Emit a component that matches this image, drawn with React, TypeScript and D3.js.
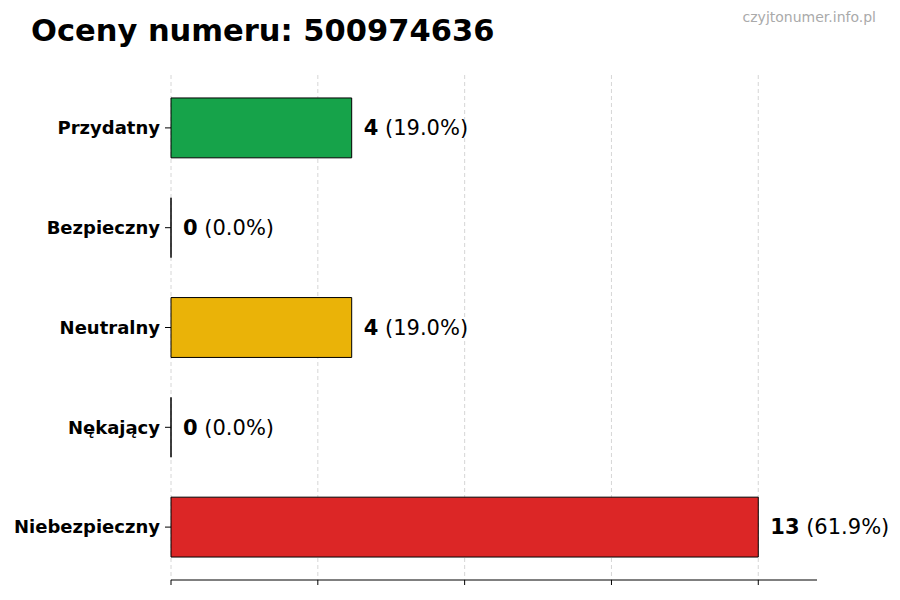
import React from "react";
import * as d3 from "d3";

const categories = ["Przydatny", "Bezpieczny", "Neutralny", "Nękający", "Niebezpieczny"];
const counts = [4, 0, 4, 0, 13];
const percents = ["19.0%", "0.0%", "19.0%", "0.0%", "61.9%"];
const colors = ["#16a34a", "#2563eb", "#eab308", "#f97316", "#dc2626"];
const xTicks = [0, 3.25, 6.5, 9.75, 13];
const title = "Oceny numeru: 500974636";
const watermark = "czyjtonumer.info.pl";

const W = 900;
const H = 600;
const left = 171;
const right = 817;
const top = 75;
const bottom = 580;
const font = "DejaVu Sans, sans-serif";

export default function App() {
  const maxV = d3.max(counts) as number;
  const x = d3.scaleLinear().domain([0, maxV * 1.1]).range([left, right]);
  const y = d3
    .scaleBand<string>()
    .domain(categories)
    .range([top, bottom])
    .paddingInner(0.4)
    .paddingOuter(0.23);
  const bw = y.bandwidth();

  return (
    <svg
      width={W}
      height={H}
      style={{ position: "absolute", left: 0, top: 0, background: "#fff" }}
      fontFamily={font}
    >
      <text x={31} y={41} fontSize={30.5} fontWeight="bold" fill="#000">
        {title}
      </text>
      <text x={876} y={22} fontSize={14} fill="#aaaaaa" textAnchor="end">
        {watermark}
      </text>
      {xTicks.map((t) => (
        <line
          key={"g" + t}
          x1={x(t)}
          x2={x(t)}
          y1={top}
          y2={bottom}
          stroke="#cccccc"
          strokeWidth={0.8}
          strokeDasharray="4,3"
        />
      ))}
      {categories.map((c, i) => {
        const y0 = y(c) as number;
        const x0 = x(0);
        const x1 = x(counts[i]);
        const d = `M${x0},${y0}H${x1}V${y0 + bw}H${x0}Z`;
        const cy = y0 + bw / 2;
        return (
          <g key={c}>
            <path d={d} fill={colors[i]} stroke="#000" strokeWidth={1} />
            <line x1={left - 6} x2={left} y1={cy} y2={cy} stroke="#000" strokeWidth={1} />
            <text
              x={left - 11}
              y={cy}
              dy="0.35em"
              textAnchor="end"
              fontSize={18}
              fontWeight="bold"
              fill="#000"
            >
              {c}
            </text>
            <text x={x1 + 12} y={cy} dy="0.35em" fontSize={21} fill="#000">
              <tspan fontWeight="bold">{counts[i]}</tspan>
              <tspan>{" (" + percents[i] + ")"}</tspan>
            </text>
          </g>
        );
      })}
      <line x1={left} x2={right} y1={bottom} y2={bottom} stroke="#000" strokeWidth={1} />
      {xTicks.map((t) => (
        <line
          key={"t" + t}
          x1={x(t)}
          x2={x(t)}
          y1={bottom}
          y2={bottom + 5}
          stroke="#000"
          strokeWidth={1}
        />
      ))}
    </svg>
  );
}
